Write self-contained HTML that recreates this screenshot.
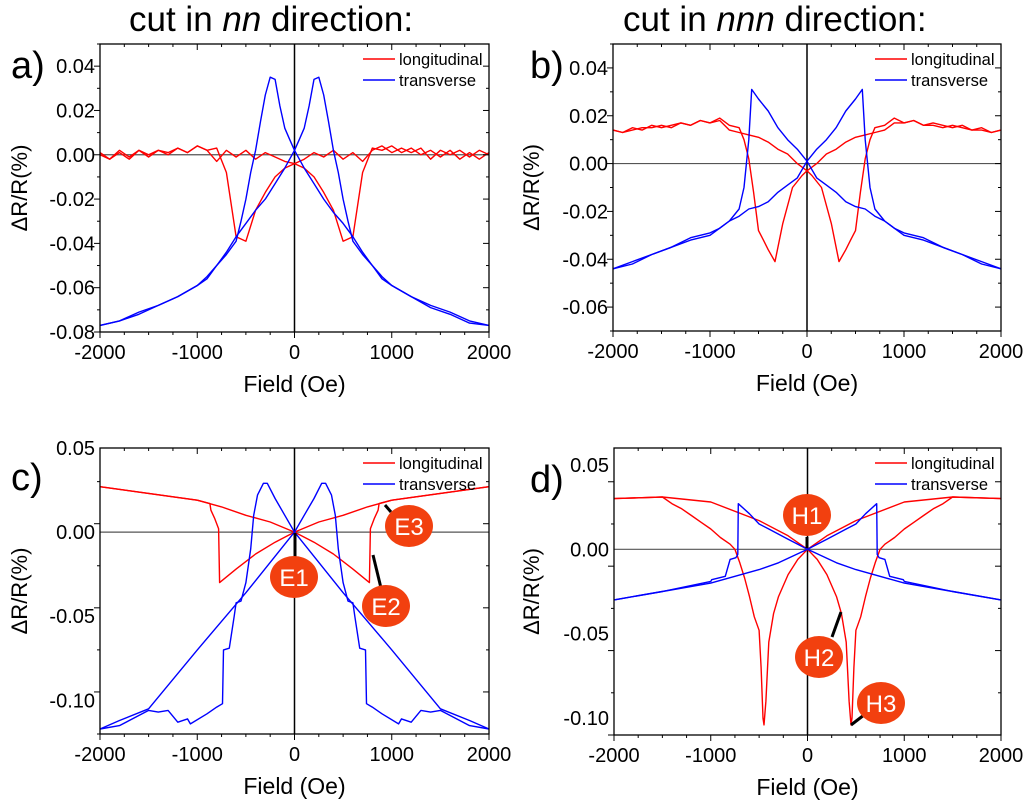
<!DOCTYPE html>
<html><head><meta charset="utf-8"><style>
body{margin:0;background:#fff;}
svg{display:block;font-family:"Liberation Sans",Arial,sans-serif;}
</style></head><body>
<svg id="fig" width="1024" height="803" viewBox="0 0 1024 803">
<text x="129" y="31" font-size="35">cut in <tspan font-style="italic">nn</tspan> direction:</text>
<text x="623" y="31" font-size="35">cut in <tspan font-style="italic">nnn</tspan> direction:</text>
</svg>
<script>
// ---- Panel a data ----
const aLongX=[-2000,-1900,-1800,-1700,-1600,-1500,-1400,-1300,-1200,-1100,-1000,-900,-800,-700,-600,-500,-400,-300,-200,-100,0,100,200,300,400,500,600,700,800,900,1000,1100,1200,1300,1400,1500,1600,1700,1800,1900,2000];
const aLongA=[0.001,-0.002,0.001,-0.002,0.002,-0.001,0.002,0.000,0.003,0.001,0.004,0.002,0.003,-0.008,-0.037,-0.039,-0.025,-0.017,-0.010,-0.006,-0.004,-0.002,0.001,-0.001,0.002,-0.002,0.001,-0.003,0.002,0.004,0.001,0.003,0.001,0.003,-0.002,0.002,0.000,0.002,-0.001,0.002,0.000];
const aLongB=[0.000,-0.002,0.002,-0.001,0.002,0.000,0.002,0.001,0.003,0.001,0.004,0.002,-0.003,0.002,-0.001,0.002,-0.002,0.001,-0.001,-0.003,-0.004,-0.006,-0.010,-0.017,-0.025,-0.039,-0.037,-0.008,0.003,0.002,0.004,0.001,0.003,0.000,0.002,-0.001,0.002,-0.002,0.001,-0.002,0.001];
const aTransXA=[-2000,-1800,-1600,-1400,-1200,-1000,-900,-800,-700,-600,-550,-500,-450,-400,-350,-300,-250,-200,-150,-100,-50,0,100,200,300,400,500,600,700,800,900,1000,1200,1400,1600,1800,2000];
const aTransA=[-0.077,-0.075,-0.071,-0.068,-0.064,-0.059,-0.056,-0.050,-0.045,-0.039,-0.030,-0.020,-0.008,0.002,0.015,0.027,0.035,0.034,0.022,0.012,0.007,0.002,-0.006,-0.013,-0.020,-0.026,-0.031,-0.037,-0.044,-0.050,-0.055,-0.059,-0.064,-0.069,-0.072,-0.076,-0.077];
const aTransXB=[-2000,-1800,-1600,-1400,-1200,-1000,-900,-800,-700,-600,-500,-400,-300,-200,-100,0,50,100,150,200,250,300,350,400,450,500,550,600,700,800,900,1000,1200,1400,1600,1800,2000];
const aTransB=[-0.077,-0.075,-0.072,-0.068,-0.064,-0.059,-0.055,-0.050,-0.044,-0.037,-0.031,-0.025,-0.020,-0.013,-0.006,0.002,0.007,0.012,0.022,0.034,0.035,0.027,0.015,0.002,-0.008,-0.020,-0.030,-0.039,-0.045,-0.050,-0.056,-0.059,-0.064,-0.068,-0.071,-0.075,-0.077];
// ---- Panel b data ----
const bLongXA=[-2000,-1900,-1800,-1700,-1600,-1500,-1400,-1300,-1200,-1100,-1000,-900,-800,-700,-650,-600,-550,-500,-450,-400,-330,-250,-150,-50,0,100,200,300,400,500,600,700,800,900,1000,1100,1200,1300,1400,1500,1600,1700,1800,1900,2000];
const bLongA=[0.014,0.013,0.015,0.014,0.016,0.015,0.016,0.017,0.016,0.018,0.017,0.019,0.016,0.015,0.010,0.002,-0.012,-0.028,-0.032,-0.036,-0.041,-0.025,-0.010,-0.005,-0.003,0.000,0.004,0.006,0.009,0.011,0.012,0.013,0.014,0.017,0.017,0.018,0.016,0.016,0.015,0.016,0.015,0.014,0.014,0.013,0.014];
const bLongXB=[-2000,-1900,-1800,-1700,-1600,-1500,-1400,-1300,-1200,-1100,-1000,-900,-800,-700,-600,-500,-400,-300,-200,-100,0,50,150,250,330,400,450,500,550,600,650,700,800,900,1000,1100,1200,1300,1400,1500,1600,1700,1800,1900,2000];
const bLongB=[0.014,0.013,0.014,0.015,0.015,0.016,0.015,0.017,0.016,0.018,0.017,0.018,0.014,0.013,0.012,0.011,0.009,0.006,0.004,0.000,-0.003,-0.005,-0.010,-0.025,-0.041,-0.036,-0.032,-0.028,-0.012,0.002,0.010,0.015,0.016,0.019,0.017,0.018,0.016,0.017,0.016,0.015,0.016,0.014,0.015,0.013,0.014];
const bTransXA=[-2000,-1800,-1600,-1400,-1200,-1000,-900,-800,-700,-650,-600,-570,-500,-400,-300,-200,-100,0,100,200,300,400,500,600,700,800,900,1000,1200,1400,1600,1800,2000];
const bTransA=[-0.044,-0.042,-0.038,-0.035,-0.031,-0.029,-0.027,-0.024,-0.019,-0.010,0.010,0.031,0.027,0.022,0.015,0.010,0.006,0.001,-0.006,-0.009,-0.012,-0.016,-0.018,-0.019,-0.022,-0.024,-0.027,-0.030,-0.032,-0.035,-0.038,-0.041,-0.044];
const bTransXB=[-2000,-1800,-1600,-1400,-1200,-1000,-900,-800,-700,-600,-500,-400,-300,-200,-100,0,100,200,300,400,500,570,600,650,700,800,900,1000,1200,1400,1600,1800,2000];
const bTransB=[-0.044,-0.041,-0.038,-0.035,-0.032,-0.030,-0.027,-0.024,-0.022,-0.019,-0.018,-0.016,-0.012,-0.009,-0.006,0.001,0.006,0.010,0.015,0.022,0.027,0.031,0.010,-0.010,-0.019,-0.024,-0.027,-0.029,-0.031,-0.035,-0.038,-0.042,-0.044];
// ---- Panel c data ----
const cLongXA=[-2000,-1500,-1000,-870,-860,-820,-780,-770,-600,-400,-200,0,250,500,750,1000,1500,2000];
const cLongA=[0.027,0.023,0.019,0.017,0.013,0.008,0.002,-0.030,-0.022,-0.013,-0.006,0,0.006,0.010,0.015,0.019,0.023,0.027];
const cLongXB=[-2000,-1500,-1000,-750,-500,-250,0,200,400,600,770,780,820,860,870,1000,1500,2000];
const cLongB=[0.027,0.023,0.019,0.015,0.010,0.006,0,-0.006,-0.013,-0.022,-0.030,0.002,0.008,0.013,0.017,0.019,0.023,0.027];
const cTransXA=[-2000,-1800,-1500,-1400,-1300,-1200,-1100,-1070,-900,-800,-740,-730,-670,-620,-600,-550,-500,-450,-420,-380,-320,-280,-200,-100,0,500,1000,1500,1800,2000];
const cTransA=[-0.117,-0.115,-0.106,-0.107,-0.106,-0.113,-0.111,-0.114,-0.108,-0.104,-0.102,-0.070,-0.069,-0.050,-0.042,-0.041,-0.030,-0.010,0.010,0.022,0.029,0.029,0.020,0.010,0,-0.036,-0.070,-0.105,-0.112,-0.117];
const cTransXB=[-2000,-1800,-1500,-1000,-500,0,100,200,280,320,380,420,450,500,550,600,620,670,730,740,800,900,1070,1100,1200,1300,1400,1500,1800,2000];
const cTransB=[-0.117,-0.112,-0.105,-0.070,-0.036,0,0.010,0.020,0.029,0.029,0.022,0.010,-0.010,-0.030,-0.041,-0.042,-0.050,-0.069,-0.070,-0.102,-0.104,-0.108,-0.114,-0.111,-0.113,-0.106,-0.107,-0.106,-0.115,-0.117];
// ---- Panel d data ----
const dLongXA=[-2000,-1500,-1400,-1300,-1200,-1100,-1000,-900,-800,-750,-700,-650,-600,-550,-500,-480,-460,-450,-430,-400,-350,-300,-200,-100,0,200,500,1000,1500,2000];
const dLongA=[0.030,0.031,0.027,0.024,0.020,0.016,0.012,0.007,0.003,0.000,-0.008,-0.017,-0.028,-0.040,-0.048,-0.070,-0.100,-0.104,-0.090,-0.055,-0.038,-0.028,-0.015,-0.006,0,0.008,0.017,0.028,0.031,0.030];
const dLongXB=[-2000,-1500,-1000,-500,-200,0,100,200,300,350,400,430,450,460,480,500,550,600,650,700,750,800,900,1000,1100,1200,1300,1400,1500,2000];
const dLongB=[0.030,0.031,0.028,0.017,0.008,0,-0.006,-0.015,-0.028,-0.038,-0.055,-0.090,-0.104,-0.100,-0.070,-0.048,-0.040,-0.028,-0.017,-0.008,0.000,0.003,0.007,0.012,0.016,0.020,0.024,0.027,0.031,0.030];
const dTransXA=[-2000,-1500,-1000,-990,-850,-830,-800,-740,-720,-715,-600,-500,-400,-200,0,300,500,1000,1500,2000];
const dTransA=[-0.030,-0.025,-0.019,-0.018,-0.016,-0.012,-0.006,-0.005,-0.003,0.027,0.021,0.015,0.012,0.006,0,-0.008,-0.012,-0.020,-0.025,-0.030];
const dTransXB=[-2000,-1500,-1000,-500,-300,0,200,400,500,600,715,720,740,800,830,850,990,1000,1500,2000];
const dTransB=[-0.030,-0.025,-0.020,-0.012,-0.008,0,0.006,0.012,0.015,0.021,0.027,-0.003,-0.005,-0.006,-0.012,-0.016,-0.018,-0.019,-0.025,-0.030];
// ---- tick labels ----
const xTickVals=[-2000,-1000,0,1000,2000];
const aYTicks=[-0.08,-0.06,-0.04,-0.02,0.00,0.02,0.04];
const bYTicks=[-0.06,-0.04,-0.02,0.00,0.02,0.04];
const cYTicks=[-0.10,-0.05,0.00,0.05];
const dYTicks=[-0.10,-0.05,0.00,0.05];

const NS='http://www.w3.org/2000/svg';
const svg=document.getElementById('fig');
function mk(tag,attrs,parent){const e=document.createElementNS(NS,tag);for(const k in attrs)e.setAttribute(k,attrs[k]);(parent||svg).appendChild(e);return e;}

function panel(p){
  const g=mk('g',{});
  
  
  const sx=v=>p.x0+(v+2000)/4000*(p.x1-p.x0);
  const sy=v=>p.y1-(v-p.ymin)/(p.ymax-p.ymin)*(p.y1-p.y0);
  const hz=mk('line',{x1:p.x0,x2:p.x1,y1:sy(0),y2:sy(0),stroke:'#555','stroke-width':1.2},g);
  
  
  const vz=mk('line',{x1:sx(0),x2:sx(0),y1:p.y0,y2:p.y1,stroke:'#000','stroke-width':1.5},g);
  
  
  p.series.forEach(s=>{
    const d=s.x.map((xv,i)=>(i?'L':'M')+sx(xv).toFixed(1)+','+sy(s.y[i]).toFixed(1)).join('');
    const path=mk('path',{d:d,fill:'none',stroke:s.c,'stroke-width':1.4,'stroke-linejoin':'round'},g);
    
    
  });
  const fr=mk('rect',{x:p.x0,y:p.y0,width:p.x1-p.x0,height:p.y1-p.y0,fill:'none',stroke:'#000','stroke-width':1.3},g);
  
  
  for(let v=-2000;v<=2000;v+=250){
    const maj=v%1000===0, L=maj?6:3;
    mk('line',{x1:sx(v),x2:sx(v),y1:p.y1,y2:p.y1+L,stroke:'#000'},g);
    mk('line',{x1:sx(v),x2:sx(v),y1:p.y0,y2:p.y0+L,stroke:'#000'},g);
  }
  xTickVals.forEach(v=>{
    const t=mk('text',{x:sx(v),y:p.y1+27,'font-size':20,'text-anchor':'middle'},g);
    t.textContent=String(v);
    
    
  });
  const step=p.yt[1]-p.yt[0];
  for(let v=p.ymin;v<=p.ymax+1e-9;v+=step/2){
    const k=Math.round((v-p.yt[0])/step*2);
    const maj=k%2===0, L=maj?6:3;
    mk('line',{x1:p.x0-L,x2:p.x0,y1:sy(v),y2:sy(v),stroke:'#000'},g);
    mk('line',{x1:p.x1-L,x2:p.x1,y1:sy(v),y2:sy(v),stroke:'#000'},g);
  }
  p.yt.forEach(v=>{
    const t=mk('text',{x:p.x0-5,y:sy(v)+7,'font-size':20,'text-anchor':'end'},g);
    t.textContent=v.toFixed(2);
    
    
  });
  const xt=mk('text',{x:(p.x0+p.x1)/2,y:p.y1+60,'font-size':23,'text-anchor':'middle'},g);
  xt.textContent='Field (Oe)';
  
  
  const yy=(p.y0+p.y1)/2;
  const yt=mk('text',{x:p.ytx,y:yy,'font-size':22,'text-anchor':'middle',transform:'rotate(-90 '+p.ytx+' '+yy+')'},g);
  yt.textContent='ΔR/R(%)';
  
  
  const pl=mk('text',{x:p.lx,y:p.ly,'font-size':38},g);
  pl.textContent=p.id+')';
  
  
  [['longitudinal','red',p.y0+15],['transverse','#00f',p.y0+36]].forEach(l=>{
    mk('line',{x1:p.x1-126,x2:p.x1-94,y1:l[2],y2:l[2],stroke:l[1],'stroke-width':1.5},g);
    const t=mk('text',{x:p.x1-90,y:l[2]+6,'font-size':16.5},g);
    t.textContent=l[0];
    
    
  });
  return {sx,sy};
}

panel({id:'a',x0:100,x1:489,y0:44,y1:332,ymin:-0.08,ymax:0.05,yt:aYTicks,ytx:27,lx:11,ly:78,
 series:[{x:aLongX,y:aLongA,c:'red',name:'a-longitudinal-up'},{x:aLongX,y:aLongB,c:'red',name:'a-longitudinal-down'},
 {x:aTransXA,y:aTransA,c:'#00f',name:'a-transverse-up'},{x:aTransXB,y:aTransB,c:'#00f',name:'a-transverse-down'}]});
panel({id:'b',x0:613,x1:1001,y0:44,y1:331,ymin:-0.07,ymax:0.05,yt:bYTicks,ytx:539,lx:530,ly:78,
 series:[{x:bLongXA,y:bLongA,c:'red',name:'b-longitudinal-up'},{x:bLongXB,y:bLongB,c:'red',name:'b-longitudinal-down'},
 {x:bTransXA,y:bTransA,c:'#00f',name:'b-transverse-up'},{x:bTransXB,y:bTransB,c:'#00f',name:'b-transverse-down'}]});
panel({id:'c',x0:100,x1:489,y0:448,y1:734,ymin:-0.12,ymax:0.05,yt:cYTicks,ytx:27,lx:11,ly:490,
 series:[{x:cLongXA,y:cLongA,c:'red',name:'c-longitudinal-up'},{x:cLongXB,y:cLongB,c:'red',name:'c-longitudinal-down'},
 {x:cTransXA,y:cTransA,c:'#00f',name:'c-transverse-up'},{x:cTransXB,y:cTransB,c:'#00f',name:'c-transverse-down'}]});
panel({id:'d',x0:614,x1:1001,y0:448,y1:735,ymin:-0.11,ymax:0.06,yt:dYTicks,ytx:539,lx:530,ly:492,
 series:[{x:dLongXA,y:dLongA,c:'red',name:'d-longitudinal-up'},{x:dLongXB,y:dLongB,c:'red',name:'d-longitudinal-down'},
 {x:dTransXA,y:dTransA,c:'#00f',name:'d-transverse-up'},{x:dTransXB,y:dTransB,c:'#00f',name:'d-transverse-down'}]});

const notes=[['E1',294,577,295,533,295,557],['E2',386,606,373,555,381,588],['E3',409,526,385,505,391,512],
['H1',807,515,807,537,807,548],['H2',819,657,841,612,832,637],['H3',881,703,864,715,851,725]];
notes.forEach(n=>{
  const g=mk('g',{});
  
  
  mk('line',{x1:n[3],y1:n[4],x2:n[5],y2:n[6],stroke:'#000','stroke-width':3},g);
  mk('ellipse',{cx:n[1],cy:n[2],rx:24,ry:21,fill:'#f2400f'},g);
  const t=mk('text',{x:n[1],y:n[2]+9,'font-size':24,fill:'#fff','text-anchor':'middle'},g);
  t.textContent=n[0];
});
</script>
</body></html>
